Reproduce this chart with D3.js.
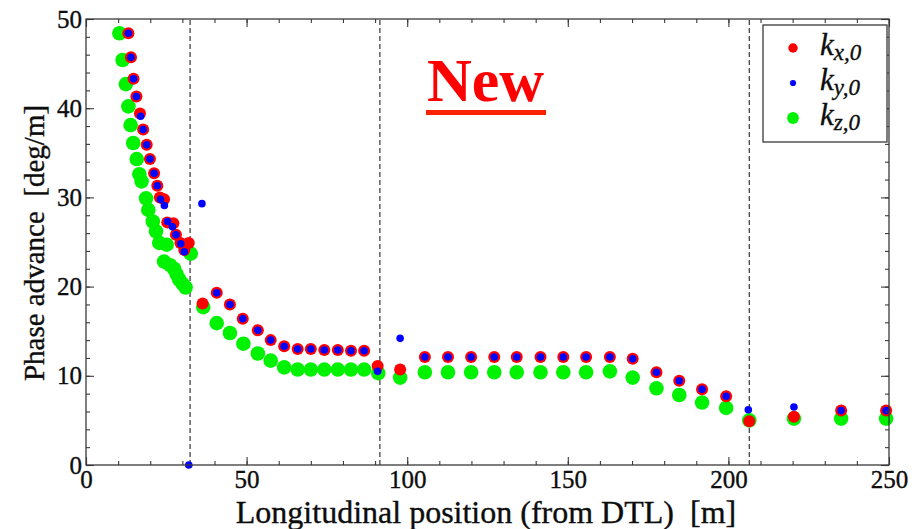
<!DOCTYPE html>
<html>
<head>
<meta charset="utf-8">
<script src="https://cdn.jsdelivr.net/npm/d3@7"></script>
<style>
  body { margin: 0; background: #fff; }
  text { font-family: "Liberation Serif", "Times New Roman", serif; white-space: pre; }
</style>
</head>
<body>
<svg id="chart" width="912" height="529"></svg>
<script>
// Phase advance per unit length along the beamline: [position (m), deg/m]
const kx = [
  [13.2,48.4],[14.0,45.7],[14.8,43.3],[15.7,41.3],[16.8,39.4],[17.8,37.6],[18.9,35.9],[19.9,34.3],
  [21.2,32.7],[22.2,31.3],[23.0,30.0],[24.3,29.8],[25.3,27.2],[27.2,27.1],[28.0,25.8],[29.4,24.9],
  [30.6,24.1],[32.0,24.9],[36.3,18.1],[40.7,19.3],[44.8,18.0],[48.8,16.4],[53.5,15.1],[57.5,14.0],
  [61.7,13.3],[65.9,13.0],[70.0,13.0],[74.2,12.9],[78.4,12.9],[82.5,12.8],[86.6,12.8],[90.8,11.1],
  [97.8,10.7],[105.5,12.1],[112.7,12.1],[119.9,12.1],[127.1,12.1],[134.1,12.1],[141.5,12.1],
  [148.6,12.1],[155.7,12.1],[163.1,12.1],[170.2,11.9],[177.6,10.4],[184.7,9.45],[191.8,8.5],
  [199.3,7.7],[206.5,4.9],[220.4,5.4],[235.1,6.1],[249.1,6.1]
];
const ky = [
  [13.2,48.4],[14.0,45.7],[14.8,43.3],[15.7,41.3],[17.0,39.1],[17.8,37.6],[18.9,35.9],[19.9,34.3],
  [21.2,32.7],[22.2,31.3],[23.2,29.8],[24.4,29.1],[25.4,27.3],[26.9,26.7],[28.0,25.8],[29.5,24.8],
  [30.6,23.9],[32.0,0.0],[36.1,29.3],[40.7,19.3],[44.8,18.0],[48.8,16.4],[53.5,15.1],[57.5,14.0],
  [61.7,13.3],[65.9,13.0],[70.0,13.0],[74.2,12.9],[78.4,12.9],[82.5,12.8],[86.6,12.8],[90.8,10.5],
  [97.8,14.2],[105.5,12.1],[112.7,12.1],[119.9,12.1],[127.1,12.1],[134.1,12.1],[141.5,12.1],
  [148.6,12.1],[155.7,12.1],[163.1,12.1],[170.2,11.9],[177.6,10.4],[184.7,9.45],[191.8,8.5],
  [199.3,7.7],[206.2,6.2],[220.4,6.5],[235.1,6.1],[249.1,6.1]
];
const kz = [
  [10.4,48.4],[11.4,45.4],[12.4,42.7],[13.2,40.2],[13.9,38.1],[14.7,36.1],[15.8,34.3],[16.6,32.6],
  [17.3,31.8],[18.7,29.9],[19.4,28.6],[20.8,27.3],[21.8,26.2],[22.8,24.9],[25.1,24.7],[24.3,22.8],
  [26.2,22.4],[27.4,22.0],[28.2,21.4],[29.0,20.8],[30.1,20.3],[31.0,19.9],[32.6,23.7],[36.5,17.7],
  [40.7,15.9],[44.8,14.8],[49.0,13.6],[53.5,12.5],[57.5,11.7],[61.7,10.95],[65.9,10.7],[70.0,10.7],
  [74.2,10.7],[78.4,10.7],[82.5,10.7],[86.6,10.7],[91.0,10.3],[97.8,9.8],[105.5,10.4],[112.7,10.4],
  [119.9,10.4],[127.1,10.4],[134.1,10.4],[141.5,10.4],[148.6,10.4],[155.7,10.4],[163.1,10.5],
  [170.2,9.8],[177.6,8.6],[184.7,7.85],[191.8,7.0],[199.3,6.4],[206.5,5.0],[220.4,5.2],
  [235.1,5.2],[249.1,5.2]
];
const xTicks = [0, 50, 100, 150, 200, 250];
const yTicks = [0, 10, 20, 30, 40, 50];
const xMinorTicks = d3.range(0, 251, 10);
const yMinorTicks = d3.range(0, 51, 2);
const boundaries = [32.4, 91.5, 206.5];
const seriesNames = ["k", "k", "k"];
const seriesSubs = ["x,0", "y,0", "z,0"];

const serif = "'Liberation Serif','Times New Roman',serif";
const svg = d3.select("#chart");
const plotLeft = 86, plotRight = 889, plotTop = 19, plotBottom = 465;
const x = d3.scaleLinear().domain([0, 250]).range([plotLeft, plotRight]);
const y = d3.scaleLinear().domain([0, 50]).range([plotBottom, plotTop]);

const frameColor = "#3a3a3a";
const inkColor = "#0d0d0d";
const fontTick = 25;

// Section boundaries
svg.append("g").selectAll("line").data(boundaries).join("line")
  .attr("x1", d => x(d)).attr("x2", d => x(d))
  .attr("y1", y(0)).attr("y2", y(50))
  .attr("stroke", "#222").attr("stroke-width", 1.1)
  .attr("stroke-dasharray", "5,3");

// Markers: z largest underneath, then x, then y on top
const styles = [
  { data: kz, color: "#00f200", r: 7.3 },
  { data: kx, color: "#ff0000", r: 6 },
  { data: ky, color: "#0000ff", r: 3.8 }
];
styles.forEach(s => {
  svg.append("g").selectAll("circle").data(s.data).join("circle")
    .attr("cx", d => x(d[0])).attr("cy", d => y(d[1]))
    .attr("r", s.r).attr("fill", s.color);
});

// Frame with inward ticks on all four sides
function styleAxis(g) {
  g.attr("font-family", serif);
  g.select(".domain").remove();
  g.selectAll(".tick line").attr("stroke", frameColor).attr("stroke-width", 1.1);
  g.selectAll("text").attr("font-size", fontTick).attr("fill", inkColor)
    .attr("stroke", inkColor).attr("stroke-width", 0.35)
    .style("font-family", serif);
}
svg.append("g").attr("transform", `translate(0,${plotBottom})`)
  .call(d3.axisBottom(x).tickValues(xMinorTicks).tickSize(-4).tickFormat("")).call(styleAxis);
svg.append("g").attr("transform", `translate(0,${plotBottom})`)
  .call(d3.axisBottom(x).tickValues(xTicks).tickSize(-8).tickPadding(5).tickFormat(d3.format("d"))).call(styleAxis);
svg.append("g").attr("transform", `translate(0,${plotTop})`)
  .call(d3.axisTop(x).tickValues(xMinorTicks).tickSize(-4).tickFormat("")).call(styleAxis);
svg.append("g").attr("transform", `translate(0,${plotTop})`)
  .call(d3.axisTop(x).tickValues(xTicks).tickSize(-8).tickFormat("")).call(styleAxis);
svg.append("g").attr("transform", `translate(${plotLeft},0)`)
  .call(d3.axisLeft(y).tickValues(yMinorTicks).tickSize(-4).tickFormat("")).call(styleAxis);
svg.append("g").attr("transform", `translate(${plotLeft},0)`)
  .call(d3.axisLeft(y).tickValues(yTicks).tickSize(-8).tickPadding(4).tickFormat(d3.format("d"))).call(styleAxis);
svg.append("g").attr("transform", `translate(${plotRight},0)`)
  .call(d3.axisRight(y).tickValues(yMinorTicks).tickSize(-4).tickFormat("")).call(styleAxis);
svg.append("g").attr("transform", `translate(${plotRight},0)`)
  .call(d3.axisRight(y).tickValues(yTicks).tickSize(-8).tickFormat("")).call(styleAxis);

svg.append("rect")
  .attr("x", plotLeft).attr("y", plotTop)
  .attr("width", plotRight - plotLeft).attr("height", plotBottom - plotTop)
  .attr("fill", "none").attr("stroke", frameColor).attr("stroke-width", 1.3);

// Axis titles
svg.append("text")
  .attr("x", 486).attr("y", 523).attr("text-anchor", "middle")
  .attr("font-size", 32).attr("fill", inkColor)
  .attr("stroke", inkColor).attr("stroke-width", 0.35)
  .text("Longitudinal position (from DTL)  [m]");
svg.append("text")
  .attr("transform", "translate(44,243) rotate(-90)")
  .attr("text-anchor", "middle")
  .attr("font-size", 29).attr("fill", inkColor)
  .attr("stroke", inkColor).attr("stroke-width", 0.35)
  .text("Phase advance  [deg/m]");

// Headline label
svg.append("text")
  .attr("x", 427).attr("y", 101)
  .attr("font-size", 62).attr("font-weight", "bold").attr("fill", "#ff0000")
  .text("New");
svg.append("rect")
  .attr("x", 426).attr("y", 110).attr("width", 120).attr("height", 5)
  .attr("fill", "#ff2200");

// Legend
const legend = svg.append("g");
legend.append("rect")
  .attr("x", 763).attr("y", 25).attr("width", 124).attr("height", 117)
  .attr("fill", "#fff").attr("stroke", frameColor).attr("stroke-width", 1.3);
const legendColors = ["#ff0000", "#0000ff", "#00f200"];
const legendR = [4.7, 3.1, 5.9];
const legendY = [48, 83, 118];
seriesNames.forEach((name, i) => {
  legend.append("circle")
    .attr("cx", 793).attr("cy", legendY[i]).attr("r", legendR[i]).attr("fill", legendColors[i]);
  const t = legend.append("text")
    .attr("x", 820).attr("y", legendY[i] + 7)
    .attr("font-size", 31).attr("font-style", "italic").attr("fill", inkColor)
    .attr("stroke", inkColor).attr("stroke-width", 0.35);
  t.append("tspan").text(name);
  t.append("tspan").attr("font-size", 23).attr("dy", 5).text(seriesSubs[i]);
});
</script>
</body>
</html>
